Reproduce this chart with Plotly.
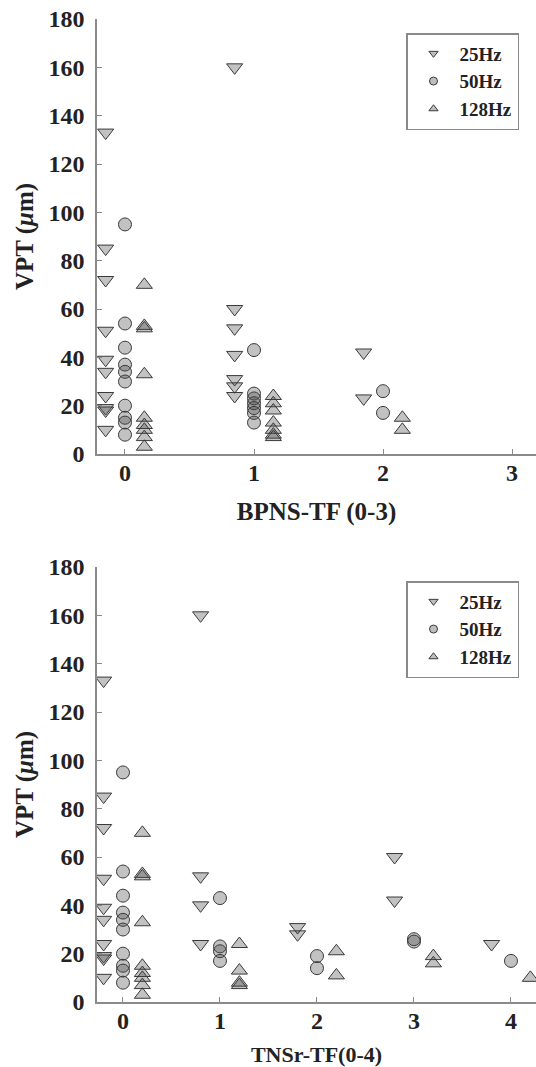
import plotly.graph_objects as go

# ---------------- data ----------------
# Top panel: BPNS-TF score (0-3)
bp_25_score = [0, 0, 0, 0, 0, 0, 0, 0, 0, 0, 1, 1, 1, 1, 1, 1, 1, 2, 2]
bp_25_vpt = [133, 85, 72, 51, 39, 34, 24, 19, 18, 10, 160, 60, 52, 41, 31, 28, 24, 42, 23]
bp_50_score = [0, 0, 0, 0, 0, 0, 0, 0, 0, 0, 1, 1, 1, 1, 1, 1, 1, 2, 2]
bp_50_vpt = [95, 54, 44, 37, 34, 30, 20, 15, 13, 8, 43, 25, 23, 21, 19, 17, 13, 26, 17]
bp_128_score = [0, 0, 0, 0, 0, 0, 0, 0, 0, 1, 1, 1, 1, 1, 1, 1, 2, 2]
bp_128_vpt = [70, 53, 52, 33, 15, 12, 10, 7, 3, 24, 21, 18, 13, 10, 8, 7, 15, 10]

# Bottom panel: TNSr-TF score (0-4)
tn_25_score = [0, 0, 0, 0, 0, 0, 0, 0, 0, 0, 1, 1, 1, 1, 2, 2, 3, 3, 4]
tn_25_vpt = [133, 85, 72, 51, 39, 34, 24, 19, 18, 10, 160, 52, 40, 24, 31, 28, 60, 42, 24]
tn_50_score = [0, 0, 0, 0, 0, 0, 0, 0, 0, 0, 1, 1, 1, 1, 2, 2, 3, 3, 4]
tn_50_vpt = [95, 54, 44, 37, 34, 30, 20, 15, 13, 8, 43, 23, 21, 17, 19, 14, 26, 25, 17]
tn_128_score = [0, 0, 0, 0, 0, 0, 0, 0, 0, 1, 1, 1, 1, 2, 2, 3, 3, 4]
tn_128_vpt = [70, 53, 52, 33, 15, 12, 10, 7, 3, 24, 13, 8, 7, 21, 11, 19, 16, 10]

series_names = ["25Hz", "50Hz", "128Hz"]
y_ticks = [0, 20, 40, 60, 80, 100, 120, 140, 160, 180]
top_x_ticks = [0, 1, 2, 3]
bot_x_ticks = [0, 1, 2, 3, 4]

# ---------------- style ----------------
FONT = "Liberation Serif"
FILL = "rgba(70,70,70,0.33)"
EDGE = "#3a3a3a"
AXC = "#8a8a8a"
symbols = ["triangle-down", "circle", "triangle-up"]
sizes = [14, 13, 14]

fig = go.Figure()

def add_panel(scores, values, offset, xa, ya, legend):
    for i, (sc, vals) in enumerate(zip(scores, values)):
        fig.add_trace(go.Scatter(
            x=[s + offset[i] for s in sc], y=vals, mode="markers",
            xaxis=xa, yaxis=ya, showlegend=False, cliponaxis=False,
            marker=dict(symbol=symbols[i], size=sizes[i], color=FILL,
                        line=dict(color=EDGE, width=1)),
            hoverinfo="x+y", name=series_names[i]))
    # legend entries with small symbols
    for i in range(3):
        fig.add_trace(go.Scatter(
            x=[None], y=[None], mode="markers", xaxis=xa, yaxis=ya,
            name=series_names[i], legend=legend, showlegend=True,
            marker=dict(symbol=symbols[i], size=8, color="rgba(190,190,190,1)",
                        line=dict(color=EDGE, width=1))))

add_panel([bp_25_score, bp_50_score, bp_128_score],
          [bp_25_vpt, bp_50_vpt, bp_128_vpt],
          [-0.15, 0.0, 0.15], "x", "y", "legend")
add_panel([tn_25_score, tn_50_score, tn_128_score],
          [tn_25_vpt, tn_50_vpt, tn_128_vpt],
          [-0.2, 0.0, 0.2], "x2", "y2", "legend2")

W, H = 536, 1067
xdom = [97 / W, 1.0]
top_dom = [1 - 454 / H, 1 - 19 / H]
bot_dom = [1 - 1002 / H, 1 - 567 / H]

tickfont = dict(family=FONT, size=24, color="#222", weight="bold")

def yaxis(dom, anchor):
    return dict(domain=dom, anchor=anchor, range=[0, 180], tickvals=y_ticks,
                automargin=False,
                showline=True, linecolor=AXC, linewidth=1.5, ticks="inside",
                ticklen=5, tickcolor=AXC, showgrid=False, zeroline=False,
                tickfont=tickfont, ticklabelstandoff=6,
                title=dict(text="VPT (<i>μ</i>m)", standoff=8,
                           font=dict(family=FONT, size=25, color="#222", weight="bold")))

def xaxis(rng, ticks, title, tsize, anchor, standoff):
    return dict(domain=xdom, anchor=anchor, range=rng, tickvals=ticks,
                automargin=False,
                showline=True, linecolor=AXC, linewidth=1.5, ticks="inside",
                ticklen=5, tickcolor=AXC, showgrid=False, zeroline=False,
                tickfont=tickfont, ticklabelstandoff=-4,
                title=dict(text=title, standoff=standoff,
                           font=dict(family=FONT, size=tsize, color="#222", weight="bold")))

legfont = dict(family=FONT, size=19, color="#222", weight="bold")

fig.update_layout(
    template="none",
    width=W, height=H, margin=dict(l=0, r=0, t=0, b=0, autoexpand=False),
    paper_bgcolor="white", plot_bgcolor="white",
    xaxis=xaxis([-0.217, 3.186], top_x_ticks, "BPNS-TF (0-3)", 25, "y", 18),
    yaxis=yaxis(top_dom, "x"),
    xaxis2=xaxis([-0.268, 4.258], bot_x_ticks, "TNSr-TF(0-4)", 22, "y2", 16),
    yaxis2=yaxis(bot_dom, "x2"),
    legend=dict(x=406 / W, y=1 - 33 / H, xanchor="left", yanchor="top",
                bordercolor=AXC, borderwidth=1.5, bgcolor="white",
                font=legfont, tracegroupgap=0, itemwidth=42),
    legend2=dict(x=406 / W, y=1 - 581 / H, xanchor="left", yanchor="top",
                 bordercolor=AXC, borderwidth=1.5, bgcolor="white",
                 font=legfont, tracegroupgap=0, itemwidth=42),
)

fig.write_html("out.html", config={"displayModeBar": False},
               post_script="document.body.style.margin='0';")
